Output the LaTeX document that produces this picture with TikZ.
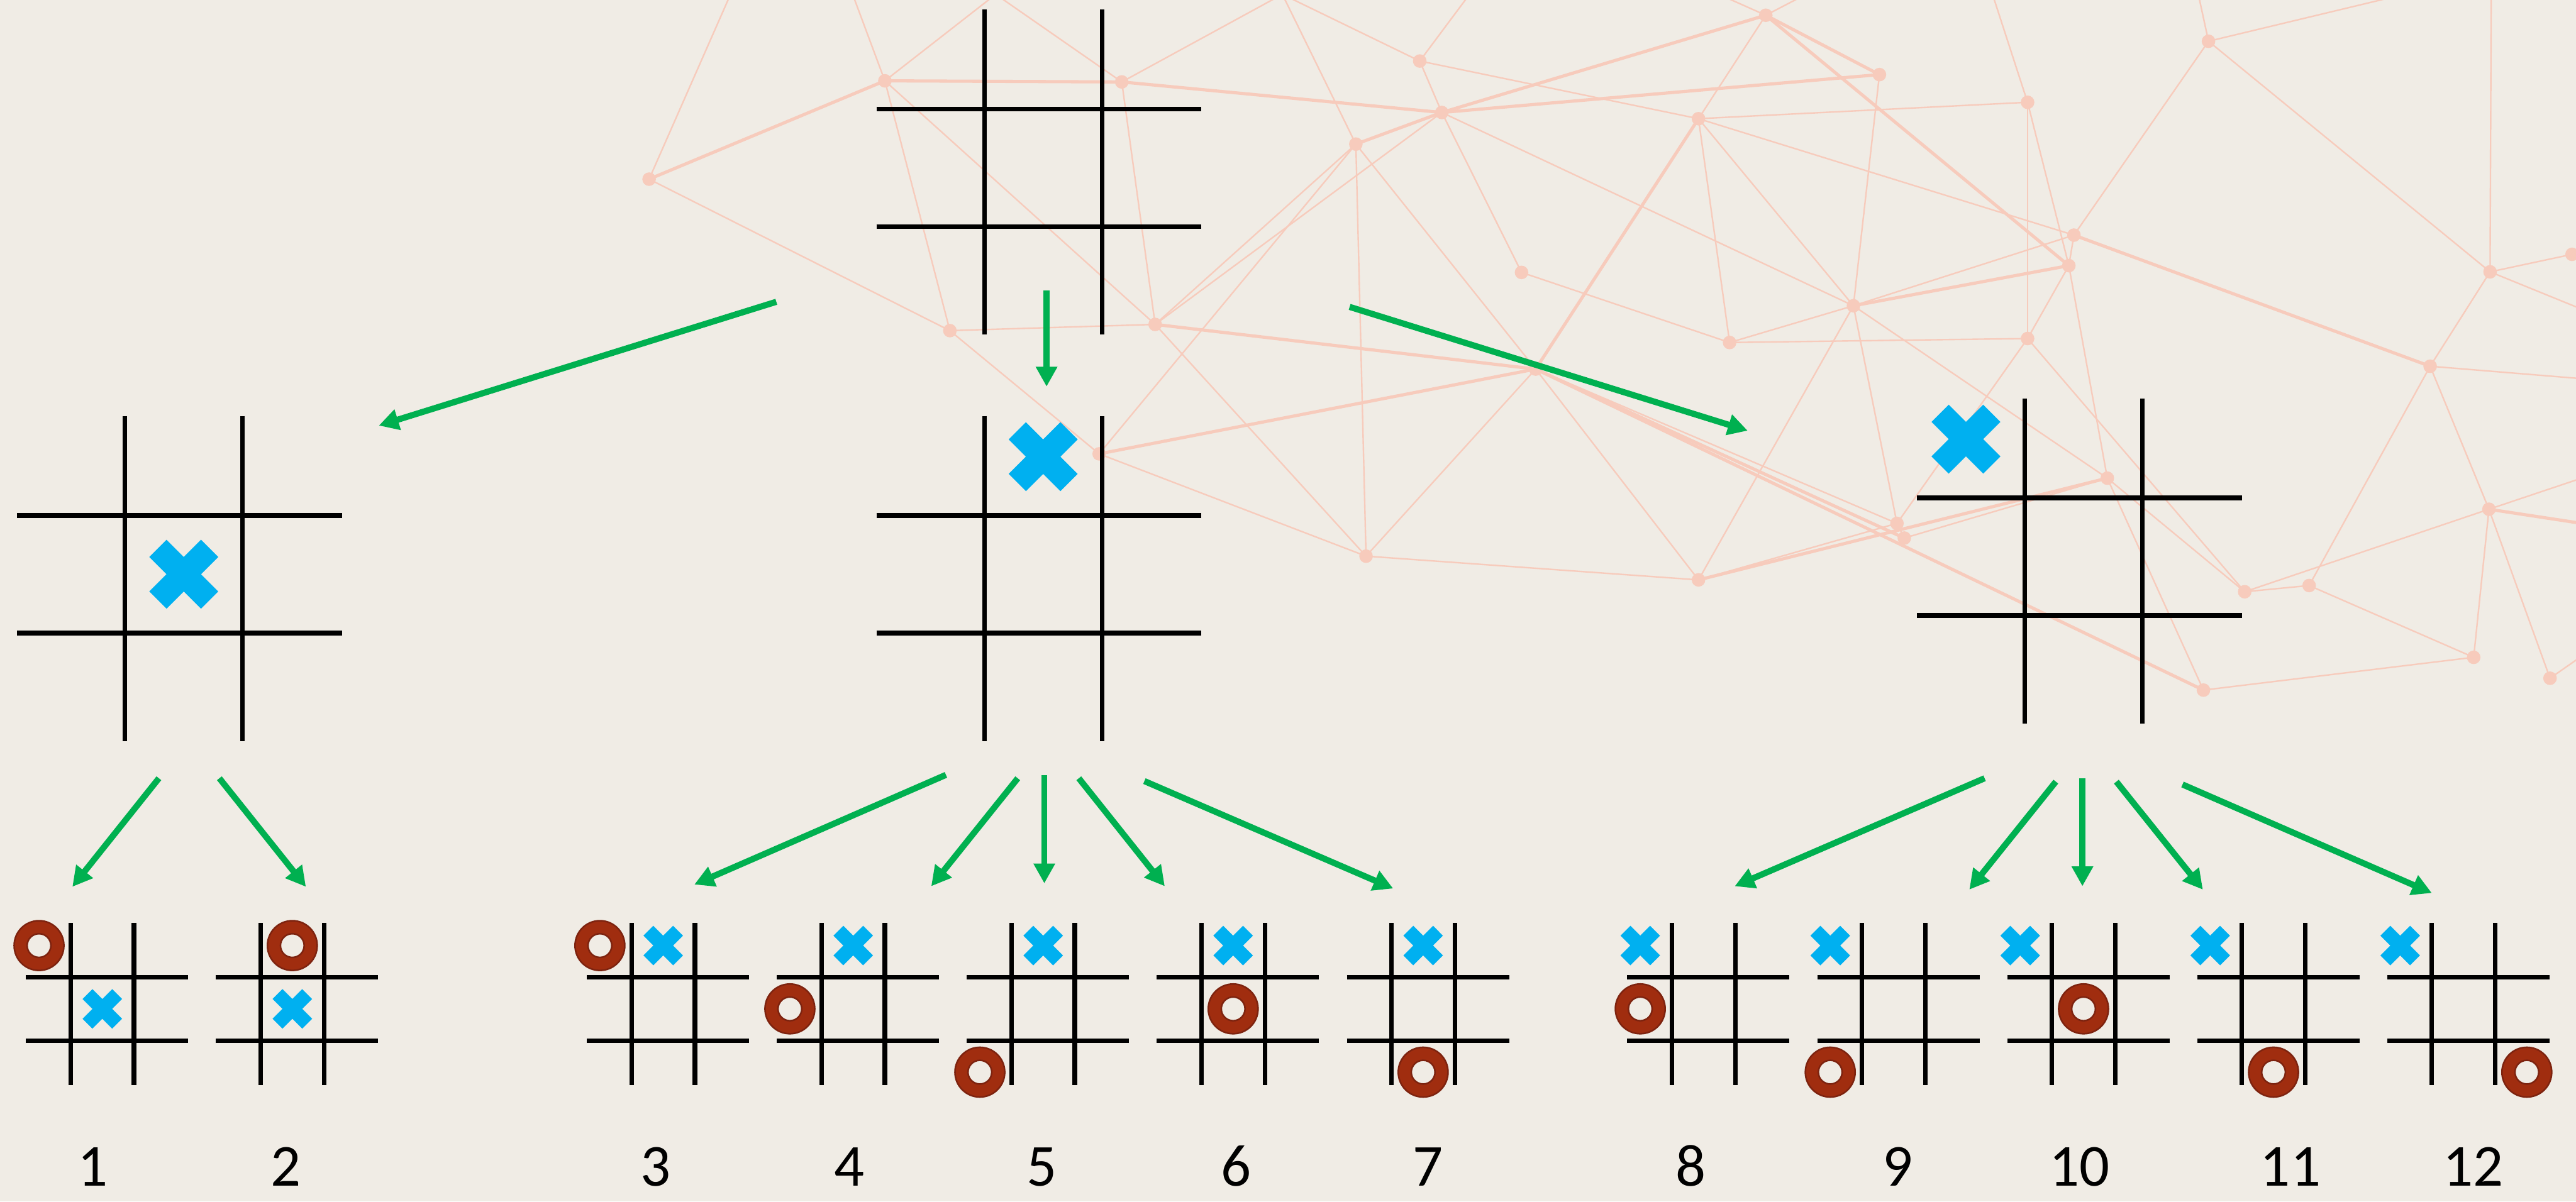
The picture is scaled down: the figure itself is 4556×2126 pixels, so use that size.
\documentclass[tikz,border=0pt]{standalone}
\usepackage{fontspec}
\setmainfont{Carlito}
\usepackage{xcolor}
\usetikzlibrary{arrows.meta}

\definecolor{paper}{RGB}{240,236,229}
\definecolor{netcol}{RGB}{247,203,188}
\definecolor{arrgreen}{RGB}{0,176,80}
\definecolor{xblue}{RGB}{0,176,240}
\definecolor{obrown}{RGB}{160,45,15}
\definecolor{oline}{RGB}{125,35,15}

\newcommand{\tttboard}[4]{%
  \begin{scope}[shift={(#1)}]
    \foreach \s in {-0.5,0.5} {
      \draw[gridline] (-#3,\s*#2) -- (#4,\s*#2);
      \draw[gridline] (\s*#2,-#4) -- (\s*#2,#3);
    }
  \end{scope}}
\newcommand{\xmark}[4]{%
  \fill[xblue, shift={(#1)}, shift={(#2,#3)}]
    (-#4,-#4/2) -- (-#4/2,-#4) -- (0,-#4/2) -- (#4/2,-#4) -- (#4,-#4/2) -- (#4/2,0)
    -- (#4,#4/2) -- (#4/2,#4) -- (0,#4/2) -- (-#4/2,#4) -- (-#4,#4/2) -- (-#4/2,0) -- cycle;}
\newcommand{\omark}[3]{%
  \fill[obrown, draw=oline, line width=0.8pt, even odd rule, shift={(#1)}]
    (#2,#3) circle[radius=44] (#2,#3) circle[radius=21];}

\begin{document}
\begin{tikzpicture}[x=0.1mm, y=-0.1mm,
  gridline/.style={line width=2.3pt, black},
  arr/.style={line width=3.1pt, arrgreen, -{Triangle[length=3.5mm, width=3.6mm]}},
  netline/.style={netcol, line width=0.75pt},
  netbold/.style={netcol, line width=1.6pt},
  num/.style={anchor=base, inner sep=0pt, font=\fontsize{30}{36}\selectfont}]
\useasboundingbox (0,0) rectangle (4556,2126);
\fill[paper] (0,0) rectangle (4556,2126);

% background network
\begin{scope}
\clip (0,0) rectangle (4556,2126);
\foreach \k/\x/\y in {1/1148/317, 2/1565/143, 3/1984/145, 4/1680/585, 5/2043/574,
  6/2398/255, 7/2550/199, 8/2511/108, 9/3123/27, 10/3324/132, 11/3004/210,
  12/3586/181, 13/3906/73, 14/3668/416, 15/3659/470, 16/3278/541, 17/2691/482,
  18/3059/606, 19/3586/599, 20/2716/653, 21/1944/803, 22/2416/984, 23/3004/1026,
  24/3355/926, 25/3368/952, 26/3727/846, 27/3970/1047, 28/4084/1036, 29/3897/1221,
  30/4375/1163, 31/4510/1200, 32/4402/901, 33/4298/648, 34/4404/481, 35/4549/450}
  \coordinate (n\k) at (\x,\y);
\foreach \k/\x/\y in {1/1292/-10, 2/1508/-10, 3/1761/-10, 4/2268/-10, 5/2599/-10,
  6/3040/-10, 7/3194/-10, 8/3524/-10, 9/3888/-10, 10/4252/-10, 11/4406/-10,
  12/4566/547, 13/4566/670, 14/4566/926, 15/4566/846, 16/4566/1161}
  \coordinate (e\k) at (\x,\y);
\foreach \a/\b in {n1/e1, n1/n4, n2/e2, n2/e3, n2/n4, n2/n5, n3/e3, n3/e4, n3/n5,
  n4/n5, n4/n21, n5/n6, n5/n7, n5/n22, n6/n22, n6/n21, n6/n20, n6/e4, n7/n16,
  n7/n17, n7/n8, n8/e4, n8/e5, n8/n11, n9/n11, n9/e6, n9/e7, n10/n16, n11/n12,
  n11/n14, n11/n18, n11/n16, n12/n19, n12/n15, n12/e8, n13/e9, n13/e10, n13/n34,
  n13/n14, n14/n15, n14/n16, n15/n26, n15/n19, n16/n18, n16/n24, n16/n23,
  n16/n26, n17/n18, n18/n19, n19/n27, n19/n24, n20/n23, n20/n22, n20/n24,
  n21/n22, n22/n23, n23/n24, n24/n25, n25/n26, n26/n27, n26/n29, n27/n28,
  n27/n32, n28/n30, n28/n33, n29/n30, n30/n32, n31/n32, n31/e16, n32/n33,
  n33/n34, n33/e13, n34/n35, n34/e11, n34/e12, n32/e15}
  \draw[netline] (\a) -- (\b);
\foreach \a/\b in {n1/n2, n2/n3, n3/n7, n7/n9, n7/n10, n9/n15, n9/n10, n5/n20,
  n20/n21, n20/n25, n20/n29, n15/n16, n11/n20, n23/n26, n32/e14, n14/n33, n6/n7}
  \draw[netbold] (\a) -- (\b);
\foreach \k in {1,...,35}
  \fill[netcol] (n\k) circle[radius=12];
\end{scope}

% boards
\coordinate (root) at (1845,297);
\coordinate (mL) at (325,1016);
\coordinate (mM) at (1845,1016);
\coordinate (mR) at (3685,985);
\foreach \i/\x in {1/181, 2/517, 3/1173, 4/1509, 5/1845, 6/2181, 7/2517,
  8/3013, 9/3349, 10/3685, 11/4021, 12/4357}
  \coordinate (b\i) at (\x,1785);

\foreach \b in {root,mL,mM,mR}
  \tttboard{\b}{208}{295}{280};
\foreach \i in {1,...,12}
  \tttboard{b\i}{112}{135}{152};

\xmark{mL}{0}{0}{61}
\xmark{mM}{0}{-208}{61}
\xmark{mR}{-208}{-208}{61}
\foreach \i/\dx/\dy in {1/0/0, 2/0/0, 3/0/-112, 4/0/-112, 5/0/-112, 6/0/-112,
  7/0/-112, 8/-112/-112, 9/-112/-112, 10/-112/-112, 11/-112/-112, 12/-112/-112}
  \xmark{b\i}{\dx}{\dy}{35};
\foreach \i/\dx/\dy in {1/-112/-112, 2/0/-112, 3/-112/-112, 4/-112/0, 5/-112/112,
  6/0/0, 7/0/112, 8/-112/0, 9/-112/112, 10/0/0, 11/0/112, 12/112/112}
  \omark{b\i}{\dx}{\dy};

% moves
\foreach \n/\tx/\ty/\hx/\hy in {mL/1373/534/670/753, mM/1851/514/1851/684,
  mR/2387/543/3091/762, b1/281/1377/128/1569, b2/388/1377/541/1569,
  b3/1673/1371/1228/1565, b4/1800/1377/1647/1568, b5/1847/1371/1847/1563,
  b6/1908/1377/2060/1568, b7/2024/1382/2464/1572, b8/3510/1377/3068/1568,
  b9/3636/1383/3483/1574, b10/3683/1377/3683/1568, b11/3743/1383/3896/1574,
  b12/3860/1388/4301/1580} {
  \coordinate (t-\n) at (\tx,\ty);
  \coordinate (h-\n) at (\hx,\hy);
  \draw[arr] (t-\n) -- (h-\n);
}

\foreach \i/\x in {1/164, 2/506, 3/1160, 4/1502, 5/1843, 6/2186, 7/2526,
  8/2990, 9/3356, 10/3678, 11/4051, 12/4374}
  \node[num] (lab\i) at (\x,2098) {\i};
\end{tikzpicture}
\end{document}
